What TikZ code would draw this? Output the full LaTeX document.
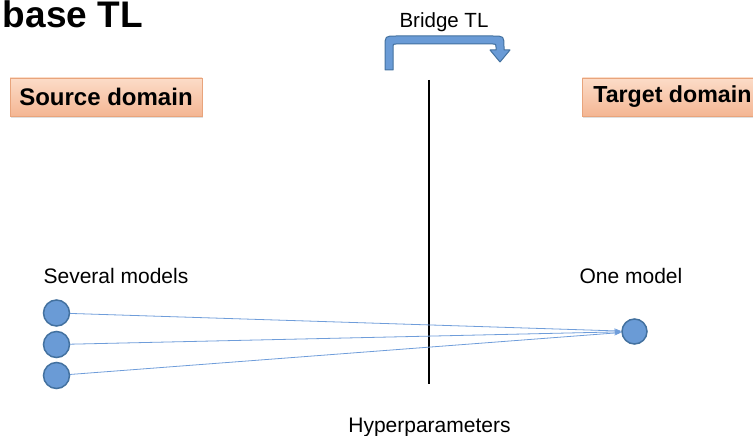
\documentclass[tikz,border=0pt]{standalone}
\usepackage{fontspec}
\setmainfont{Liberation Sans}
\usetikzlibrary{arrows.meta,shadows}
\definecolor{dotfill}{HTML}{6A9BD6}
\definecolor{dotedge}{HTML}{43719F}
\definecolor{linkblue}{HTML}{6F9DDA}
\definecolor{boxtop}{HTML}{FCDCC8}
\definecolor{boxbot}{HTML}{F4B693}
\definecolor{boxedge}{HTML}{E8A47C}
\tikzset{
  domainbox/.style={draw=boxedge, line width=0.8pt, top color=boxtop, bottom color=boxbot,
    minimum height=38pt, inner sep=0pt, font=\fontsize{24}{28}\selectfont\bfseries,
    drop shadow={opacity=0.25, shadow xshift=1pt, shadow yshift=-2pt}},
  model/.style={circle, draw=dotedge, line width=1.5pt, fill=dotfill, minimum size=26pt, inner sep=0pt},
  link/.style={draw=linkblue, line width=0.8pt, -{Stealth[length=7pt,width=5pt]}},
  caption/.style={font=\fontsize{21}{25}\selectfont, inner sep=0pt},
}
\begin{document}
\begin{tikzpicture}[x=1pt,y=-1pt]
\useasboundingbox (0,0) rectangle (753,436);

% title
\node[anchor=base east, inner sep=0pt, font=\fontsize{37}{42}\selectfont\bfseries] (title) at (143,28) {base TL};

% bridge label and bent arrow
\node[anchor=base, font=\fontsize{20.5}{24}\selectfont, inner sep=0pt] (bridge) at (444,28) {Bridge TL};
\draw[dotedge, line width=1pt, fill=dotfill, line join=round]
  (385,70) -- (385,47) .. controls (385,36) .. (396,36) -- (493,36)
  .. controls (504,36) .. (504,47) -- (504,50) -- (510,50) -- (500,62)
  -- (490,50) -- (496,50) -- (496,47) .. controls (496,44) .. (493,44)
  -- (396,44) .. controls (393,44) .. (393,47) -- (393,70) -- cycle;

% domain headers
\node[domainbox, minimum width=192pt] (src) at (106,97) {Source domain};
\node[domainbox, minimum width=180pt, anchor=west, font=\fontsize{23.2}{27}\selectfont\bfseries] (tgt) at (582,97) {Target domain};

% separating line
\coordinate (vtop) at (429,80);
\coordinate (vbot) at (429,384);
\draw[black, line width=2pt] (vtop) -- (vbot);

% captions
\node[caption, anchor=base] (several) at (116,283) {Several models};
\node[caption, anchor=base] (one) at (631,283) {One model};
\node[caption, anchor=base] (hyper) at (429.5,432) {Hyperparameters};

% models
\node[model] (s1) at (56.5,313) {};
\node[model] (s2) at (56.5,344.5) {};
\node[model] (s3) at (56.5,375.5) {};
\node[model, minimum size=25pt] (t) at (634.5,331.5) {};

% transfer links
\draw[link] (s1) -- (t);
\draw[link] (s2) -- (t);
\draw[link] (s3) -- (t);
\end{tikzpicture}
\end{document}
